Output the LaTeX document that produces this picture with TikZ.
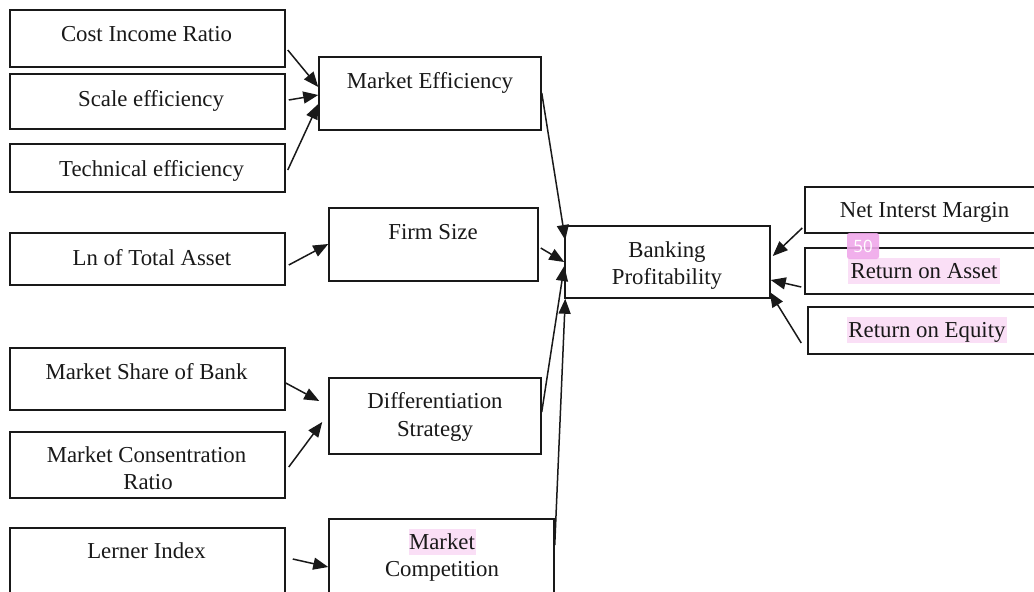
\documentclass[tikz,border=0pt]{standalone}
\usepackage{fontspec}
\setmainfont{Liberation Serif}
\newfontfamily\badgefont{Open Sans}
\usetikzlibrary{arrows.meta,calc}
\definecolor{hl}{RGB}{250,223,246}
\definecolor{badgepink}{RGB}{240,168,234}
\definecolor{edge}{RGB}{25,25,25}
\tikzset{
  bx/.style={draw=edge, line width=1.5pt, inner sep=0pt, rectangle},
  tx/.style={anchor=base, inner sep=0pt, font=\fontsize{22.8}{27}\selectfont, text=black!90},
  arr/.style={line width=1.5pt, draw=edge, -{Triangle[length=15pt,width=12pt]}},
}
\newcommand\bx[5]{\node[bx, minimum width={#4pt-#2pt}, minimum height={#5pt-#3pt}] (#1) at ({(#2+#4)/2},{(#3+#5)/2}) {};}
\begin{document}
\begin{tikzpicture}[x=1pt,y=-1pt]
\useasboundingbox (0,0) rectangle (1034,592);
\clip (0,0) rectangle (1034,592);
\fill[white] (0,0) rectangle (1034,592);
% highlights
\fill[hl] (409,529) rectangle (476,555);
\fill[hl] (848,258) rectangle (1000,284);
\fill[hl] (847,317) rectangle (1007,343);
% boxes
\bx{cir}{10}{10}{285}{67}
\bx{se}{10}{74}{285}{129}
\bx{te}{10}{144}{285}{192}
\bx{ln}{10}{233}{285}{285}
\bx{msb}{10}{348}{285}{410}
\bx{mcr}{10}{432}{285}{498}
\bx{li}{10}{528}{285}{610}
\bx{me}{319}{57}{541}{130}
\bx{fs}{329}{208}{538}{281}
\bx{ds}{329}{378}{541}{454}
\bx{mc}{329}{519}{554}{610}
\bx{bp}{565}{226}{770}{298}
\bx{nim}{805}{187}{1045}{233}
\bx{roa}{805}{248}{1045}{294}
\bx{roe}{808}{307}{1045}{354}
% texts
\node[tx] (cirT) at (146.5,41) {Cost Income Ratio};
\node[tx] (seT) at (151,106) {Scale efficiency};
\node[tx] (teT) at (151.5,176) {Technical efficiency};
\node[tx] (lnT) at (152,265) {Ln of Total Asset};
\node[tx] (msbT) at (146.5,379) {Market Share of Bank};
\node[tx] (mcrT1) at (146.5,462) {Market Consentration};
\node[tx] (mcrT2) at (148,489) {Ratio};
\node[tx] (liT) at (146.5,558) {Lerner Index};
\node[tx] (meT) at (430,88) {Market Efficiency};
\node[tx] (fsT) at (433,239) {Firm Size};
\node[tx] (dsT1) at (435,408) {Differentiation};
\node[tx] (dsT2) at (435,436) {Strategy};
\node[tx] (mcT1) at (442,549) {Market};
\node[tx] (mcT2) at (442,576) {Competition};
\node[tx] (bpT1) at (667,257) {Banking};
\node[tx] (bpT2) at (667,284) {Profitability};
\node[tx] (nimT) at (924.5,217) {Net Interst Margin};
\node[tx] (roaT) at (924,278) {Return on Asset};
\node[tx] (roeT) at (927,337) {Return on Equity};
% arrows
\draw[arr] ($(cir.east)+(2,11.5)$) -- ($(me.west)+(0,-6.5)$);
\draw[arr] ($(se.east)+(3,-1.5)$) -- ($(me.west)+(0,1.5)$);
\draw[arr] ($(te.east)+(2,2)$) -- ($(me.west)+(0,10.5)$);
\draw[arr] ($(ln.east)+(3,6)$) -- ($(fs.west)+(0,-0.5)$);
\draw[arr] ($(me.east)+(0,-0.5)$) -- ($(bp.west)+(1,-22)$);
\draw[arr] ($(fs.east)+(2,3.5)$) -- (bp.west);
\draw[arr] ($(ds.east)+(0,-4)$) -- ($(bp.west)+(0,4)$);
\draw[arr] ($(mc.east)+(0,-19.5)$) -- ($(bp.south west)+(1,0)$);
\draw[arr] ($(nim.west)+(-2,18)$) -- ($(bp.east)+(2,-6)$);
\draw[arr] ($(roa.west)+(-3,16)$) -- ($(bp.east)+(0,18)$);
\draw[arr] ($(roe.west)+(-6,12.5)$) -- ($(bp.east)+(-1,30)$);
\draw[arr] ($(msb.east)+(0,4)$) -- ($(ds.west)+(-9,-15)$);
\draw[arr] ($(mcr.east)+(3,2)$) -- ($(ds.west)+(-6,6)$);
\draw[arr] ($(li.east)+(7,-10)$) -- ($(mc.west)+(0,2.5)$);
% badge
\node[fill=badgepink, fill opacity=0.9, text opacity=1, text=white, rounded corners=2.5pt, inner sep=0pt, minimum width=32pt, minimum height=26pt, font=\badgefont\fontsize{17}{17}\selectfont] (badge) at (863,246) {50};
\end{tikzpicture}
\end{document}
